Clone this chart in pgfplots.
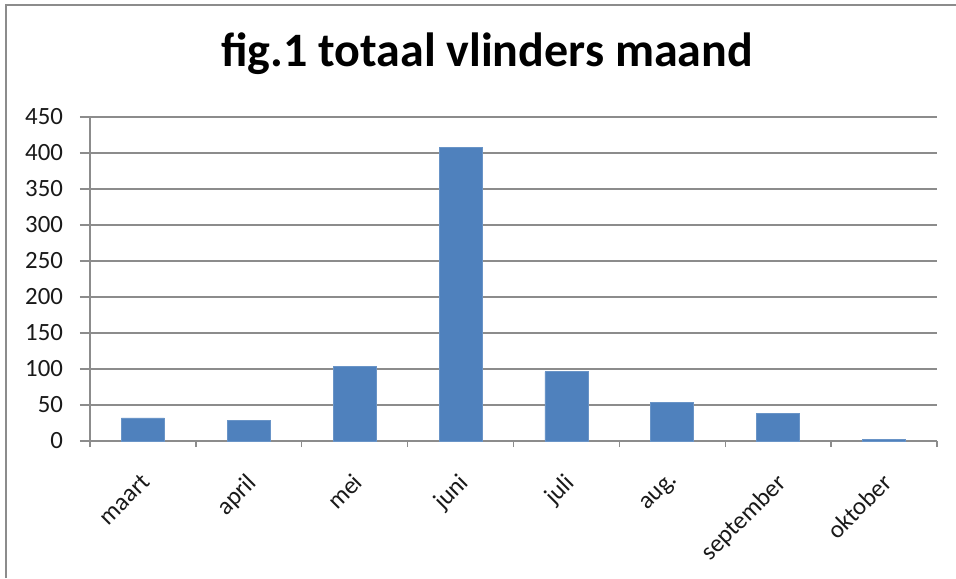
\documentclass[border=0pt]{standalone}
\usepackage{fontspec}
\setmainfont{Carlito}
\usepackage{pgfplots}
\pgfplotsset{compat=1.18}
\definecolor{barblue}{HTML}{4F81BD}
\definecolor{gridgray}{HTML}{8C8C8C}
\definecolor{framegray}{HTML}{8C8C8C}
\begin{document}
\begin{tikzpicture}
\useasboundingbox (0pt,0pt) rectangle (478pt,289pt);
\draw[framegray, line width=1pt] (3pt,0pt) -- (3pt,286.5pt) -- (478pt,286.5pt);
\node[font=\fontsize{24}{28}\selectfont\bfseries] at (243.5pt,262pt) {fig.1 totaal vlinders maand};
\begin{axis}[
  at={(45pt,68.5pt)}, anchor=south west,
  scale only axis, width=423.5pt, height=162pt,
  xmin=0.5, xmax=8.5, ymin=0, ymax=450,
  axis x line*=bottom, axis y line*=left,
  axis line style={draw=gridgray, line width=0.7pt, -},
  ytick={0,50,...,450},
  ymajorgrids, grid style={draw=gridgray, line width=0.7pt},
  xtick={1,...,8},
  xticklabels={maart,april,mei,juni,juli,aug.,september,oktober},
  x tick style={draw=none},
  extra x ticks={0.5,1.5,...,8.5},
  extra x tick labels={},
  extra x tick style={x tick style={draw=gridgray, line width=0.7pt}, major tick length=3pt, tick align=outside, grid=none},
  y tick style={draw=gridgray, line width=0.7pt},
  major tick length=5pt, tick align=outside,
  /pgf/number format/assume math mode=true,
  ticklabel style={font=\fontsize{12.4}{14}\selectfont, text=black!90},
  yticklabel style={xshift=-5pt},
  xticklabel style={rotate=45, anchor=north east, xshift=-5pt, yshift=-2.9pt},
  ybar, bar width=21.5pt,
]
\addplot[fill=barblue, draw=barblue!85!white, line width=0.4pt] coordinates {
(1,32) (2,29) (3,103) (4,408) (5,96) (6,54) (7,38) (8,2)
};
\end{axis}
\end{tikzpicture}
\end{document}
